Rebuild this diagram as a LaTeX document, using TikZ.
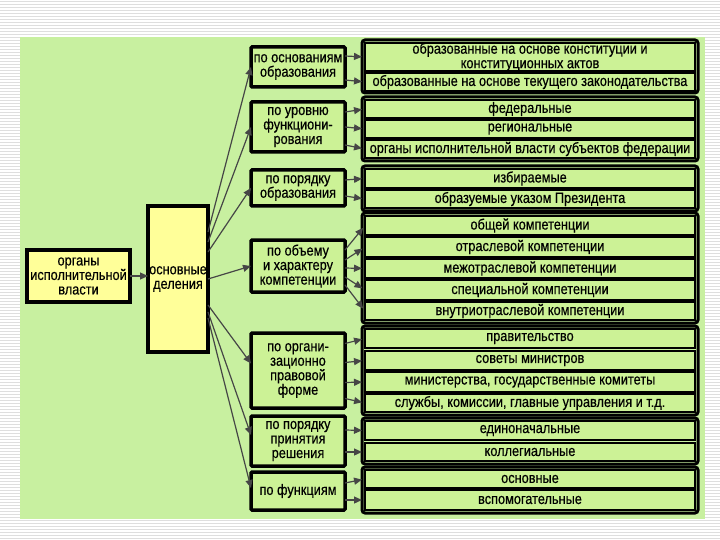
\documentclass[tikz,border=0pt]{standalone}
\usepackage{fontspec}
\setmainfont{Liberation Sans}[FakeStretch=0.85,FakeBold=0.4]
\usetikzlibrary{arrows.meta}
\definecolor{cPanel}{RGB}{200,240,160}
\definecolor{cBox}{RGB}{204,242,150}
\definecolor{cLead}{RGB}{255,255,153}
\definecolor{cArrow}{RGB}{70,70,70}
\definecolor{cStripe}{RGB}{222,222,222}

\begin{document}
\begin{tikzpicture}[x=1pt,y=-1pt,>=Triangle,
  every node/.style={inner sep=0pt,outer sep=0pt,align=center,font=\fontsize{15}{14.5}\selectfont},
  lead/.style={draw,line width=3.5pt,fill=cLead},
  crit/.style={draw,line width=3.5pt,fill=cBox,minimum width=94pt,rounded corners=1pt},
  grp/.style={draw,line width=3pt,rounded corners=3pt,minimum width=336pt},
  item/.style={draw,line width=2pt,fill=cBox,minimum width=330pt},
  arr/.style={-{Triangle[length=8pt,width=7pt]},cArrow,line width=1.2pt}]
  % page: striped margin and green panel
  \useasboundingbox (0,0) rectangle (720,540);
  \fill[white] (0,0) rectangle (720,540);
  \foreach \y in {1.5,4.5,...,540} \draw[cStripe,line width=1pt] (0,\y) -- (720,\y);
  \fill[cPanel] (20,37) rectangle (705,519);
  % left part
  \node[lead,minimum width=103pt,minimum height=52pt] (organ) at (78.5,276) {органы\\исполнительной\\власти};
  \node[lead,minimum width=60pt,minimum height=146pt] (main) at (178,279) {основные\\деления};
  \draw[arr] (organ.east) -- (organ.east -| main.west);
  % criteria
  \node[crit,minimum height=40pt] (m1) at (298,67) {по основаниям\\образования};
  \node[crit,minimum height=50pt] (m2) at (298,127) {по уровню\\функциони-\\рования};
  \node[crit,minimum height=36pt] (m3) at (298,188) {по порядку\\образования};
  \node[crit,minimum height=52pt] (m4) at (298,266) {по объему\\и характеру\\компетенции};
  \node[crit,minimum height=75pt] (m5) at (298,370.5) {по органи-\\зационно\\правовой\\форме};
  \node[crit,minimum height=50pt] (m6) at (298,441) {по порядку\\принятия\\решения};
  \node[crit,minimum height=38pt] (m7) at (298,491) {по функциям};
  % kinds, grouped in frames
  \foreach \n/\t/\b in {g1/40/93,g2/97/161,g3/166/211,g4/213/323,g5/326/415,g6/418/464,g7/467/513}
    \node[grp,minimum height=\b-\t] (\n) at (530,{(\t+\b)/2}) {};
  \foreach \n/\t/\b/\txt in {
      i11/43/71/{образованные на основе конституции и\\конституционных актов},
      i12/73/91/{образованные на основе текущего законодательства},
      i21/100/118/{федеральные}, i22/120/138/{региональные},
      i23/140/158/{органы исполнительной власти субъектов федерации},
      i31/169/188/{избираемые}, i32/190/208/{образуемые указом Президента},
      i41/216/235/{общей компетенции}, i42/237/257/{отраслевой компетенции},
      i43/259/278/{межотраслевой компетенции}, i44/280/300/{специальной компетенции},
      i45/302/320/{внутриотраслевой компетенции},
      i51/329/348/{правительство}, i52/351/370/{советы министров},
      i53/372/392/{министерства, государственные комитеты},
      i54/394/412/{службы, комиссии, главные управления и т.д.},
      i61/421/440/{единоначальные}, i62/443/461/{коллегиальные},
      i71/470/488/{основные}, i72/490/510/{вспомогательные}}
    \node[item,minimum height=\b-\t] (\n) at (530,{(\t+\b)/2}) {\txt};
  % main box to criteria
  \draw[arr] ([yshift=47pt]main.east) -- (m1.west);
  \draw[arr] ([yshift=37pt]main.east) -- (m2.west);
  \draw[arr] ([yshift=27pt]main.east) -- (m3.west);
  \draw[arr] (main.east) -- (m4.west);
  \draw[arr] ([yshift=-26pt]main.east) -- ([yshift=7pt]m5.west);
  \draw[arr] ([yshift=-33pt]main.east) -- ([yshift=6pt]m6.west);
  \draw[arr] ([yshift=-39pt]main.east) -- ([yshift=3pt]m7.west);
  % criteria to kinds
  \foreach \m/\s/\i in {m1/11/i11,m1/-13/i12,m2/15/i21,m2/0/i22,m2/-18/i23,m3/8/i31,m3/-8/i32,
      m4/16/i41,m4/6/i42,m4/-2/i43,m4/-11/i44,m4/-19/i45,
      m5/27/i51,m5/8/i52,m5/-12/i53,m5/-28/i54,m6/11/i61,m6/-11/i62,m7/8/i71,m7/-9/i72}
    \draw[arr,shorten >=3pt] ([yshift=\s pt]\m.east) -- (\i.west);
\end{tikzpicture}
\end{document}
